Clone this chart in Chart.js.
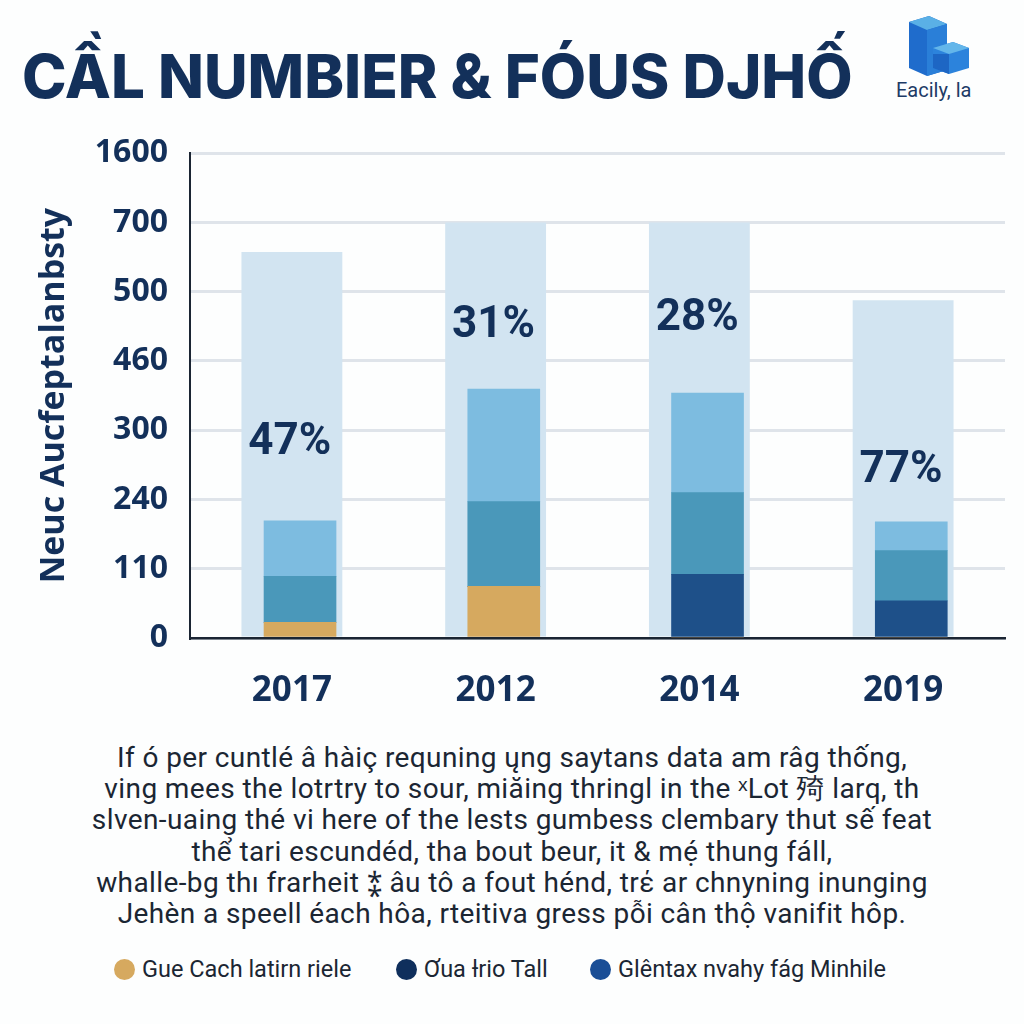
<!DOCTYPE html>
<html><head><meta charset="utf-8">
<script src="https://cdn.jsdelivr.net/npm/chart.js@4.4.1/dist/chart.umd.min.js"></script>
<style>
html,body{margin:0;padding:0;background:#fdfefe;}
body{width:1024px;height:1024px;position:relative;overflow:hidden;font-family:Roboto,sans-serif;}
#title{position:absolute;left:22px;top:40px;font-family:Inter,sans-serif;font-weight:800;font-size:60px;line-height:72px;color:#13305a;white-space:nowrap;letter-spacing:0px;}
#logo{position:absolute;left:903px;top:12px;width:68px;height:66px;}
#logoText{position:absolute;left:896px;top:78px;font-size:20px;color:#1d3b66;font-family:Roboto,sans-serif;}
#chartBox{position:absolute;left:0;top:112px;width:1024px;height:618px;}
#para{position:absolute;left:0;width:1024px;top:742px;text-align:center;font-size:28px;line-height:31.2px;letter-spacing:0.4px;color:#1b2633;font-family:Roboto,sans-serif;}
#legend{position:absolute;left:0;top:955px;width:1024px;height:28px;}
.li{position:absolute;top:0;display:flex;align-items:center;font-size:23.5px;color:#1b2633;white-space:nowrap;line-height:28px;}
.dot{width:21px;height:21px;border-radius:50%;margin-right:7px;display:inline-block;}
</style></head>
<body>
<div id="title">CẦL NUMBIER &amp; FÓUS DJHỐ</div>
<svg id="logo" viewBox="0 0 68 66">
  <polygon points="6,10 26,4 44,12 44,58 24,64 6,56" fill="#1f6ccc"/>
  <polygon points="6,10 26,4 44,12 24,18" fill="#5ab0e6"/>
  <polygon points="24,18 44,12 44,58 24,64" fill="#2a7fd8"/>
  <polygon points="30,36 50,30 66,36 66,56 46,62 30,56" fill="#2c83dc"/>
  <polygon points="30,36 50,30 66,36 46,42" fill="#63b6ea"/>
  <polygon points="30,42 46,42 46,62 30,56" fill="#1d66c4"/>
</svg>
<div id="logoText">Eacily, la</div>
<div id="chartBox"><canvas id="c"></canvas></div>
<div id="para">If ó per cuntlé â hàiç requning ųng saytans data am râg thống,<br>ving mees the lotrtry to sour, miăing thringl in the ˣLot 㱦 larq, th<br>slven-uaing thé vi here of the lests gumbess clembary thut sế feat<br>thể tari escundéd, tha bout beur, it &amp; mẹ́ thung fáll,<br>whalle-bg thı frarheit ⁑ âu tô a fout hénd, trέ ar chnyning inunging<br>Jehèn a speell éach hôa, rteitiva gress pỗi cân thộ vanifit hôp.</div>
<div id="legend">
  <div class="li" style="left:114px"><span class="dot" style="background:#d6a95f"></span>Gue Cach latirn riele</div>
  <div class="li" style="left:396px"><span class="dot" style="background:#0f2f5c"></span>Ơua Ɨrio Tall</div>
  <div class="li" style="left:590px"><span class="dot" style="background:#1a4e96"></span>Glêntax nvahy fág Minhile</div>
</div>
<script>
// ---- data ----
const categories = ["2017", "2012", "2014", "2019"];
const tickLabels = [0, 110, 240, 300, 460, 500, 700, 1600];
const backgroundTotals = [615, 700, 700, 495];
const goldSeries = [25, 82, 0, 0];
const navySeries = [0, 0, 101, 59];
const tealSeries = [73, 154, 145, 85];
const lightSeries = [102, 159, 140, 54];
const pctLabels = ["47%", "31%", "28%", "77%"];
// label anchor heights, in axis value units
const pctLabelValues = [289, 480, 484, 265];

// ---- styling ----
const C = {bg:'#d2e4f1', light:'#7dbce0', teal:'#4a98ba', navy:'#1e5089', gold:'#d6a95f', ink:'#13305a'};
const innerShift = 0.04;

// piecewise mapping from value to evenly spaced tick position
function toPos(v){
  for(let i=0;i<tickLabels.length-1;i++){
    const a=tickLabels[i], b=tickLabels[i+1];
    if(v<=b) return i + (v-a)/(b-a);
  }
  return tickLabels.length-1;
}

function segments(bottomArrs, arr){
  return arr.map((v,i)=>{
    const base = bottomArrs.reduce((s,a)=>s+a[i],0);
    return {x: i + innerShift, y: [toPos(base), toPos(base+v)]};
  });
}

const innerDatasets = [
  {label:'gold', data: segments([], goldSeries), backgroundColor:C.gold},
  {label:'navy', data: segments([goldSeries], navySeries), backgroundColor:C.navy},
  {label:'teal', data: segments([goldSeries, navySeries], tealSeries), backgroundColor:C.teal},
  {label:'light', data: segments([goldSeries, navySeries, tealSeries], lightSeries), backgroundColor:C.light},
].map(d=>Object.assign(d,{xAxisID:'x2', grouped:false, barThickness:72, order:1, borderWidth:0}));

const bgDataset = {
  label:'bg', data: backgroundTotals.map(v=>toPos(v)), backgroundColor:C.bg,
  xAxisID:'x', grouped:false, barPercentage:0.495, categoryPercentage:1, order:10, borderWidth:0
};

const pctPlugin = {
  id:'pct',
  afterDatasetsDraw(chart){
    const ctx = chart.ctx, xs = chart.scales.x, ys = chart.scales.y;
    ctx.save();
    ctx.font = 'bold 44px Roboto, sans-serif';
    ctx.fillStyle = C.ink;
    ctx.textAlign = 'center';
    ctx.textBaseline = 'middle';
    pctLabels.forEach((t,i)=>{
      ctx.fillText(t, xs.getPixelForValue(i) - 2, ys.getPixelForValue(toPos(pctLabelValues[i])));
    });
    ctx.restore();
  }
};

new Chart(document.getElementById('c'), {
  type:'bar',
  data:{labels:categories, datasets:[bgDataset, ...innerDatasets]},
  plugins:[pctPlugin],
  options:{
    responsive:true, maintainAspectRatio:false, animation:false,
    layout:{padding:{top:4, right:19, left:0, bottom:0}},
    plugins:{legend:{display:false}, tooltip:{enabled:false}, title:{display:false}},
    scales:{
      x:{
        type:'category', offset:true,
        grid:{display:false, drawTicks:false},
        border:{display:true, color:'#1b2533', width:2.5},
        ticks:{padding:32, color:C.ink, font:{family:'Open Sans', weight:'bold', size:35}},
        afterFit(s){ s.height = 92; }
      },
      x2:{type:'linear', min:-0.5, max:3.5, offset:false, display:false, grid:{offset:false}},
      y:{
        type:'linear', min:0, max:7,
        ticks:{stepSize:1, padding:22, color:C.ink, font:{family:'Open Sans', weight:'bold', size:32},
          callback:(v)=>tickLabels[v]},
        grid:{color:'#dfe4ea', lineWidth:3, drawTicks:false},
        border:{display:true, color:'#1b2533', width:2},
        title:{display:true, text:'Neuc Aucfeptalanbsty', color:C.ink,
          font:{family:'Open Sans', weight:'bold', size:34}, padding:{top:34, bottom:0}},
        afterFit(s){ s.width = 190; }
      }
    }
  }
});
</script>
</body></html>
